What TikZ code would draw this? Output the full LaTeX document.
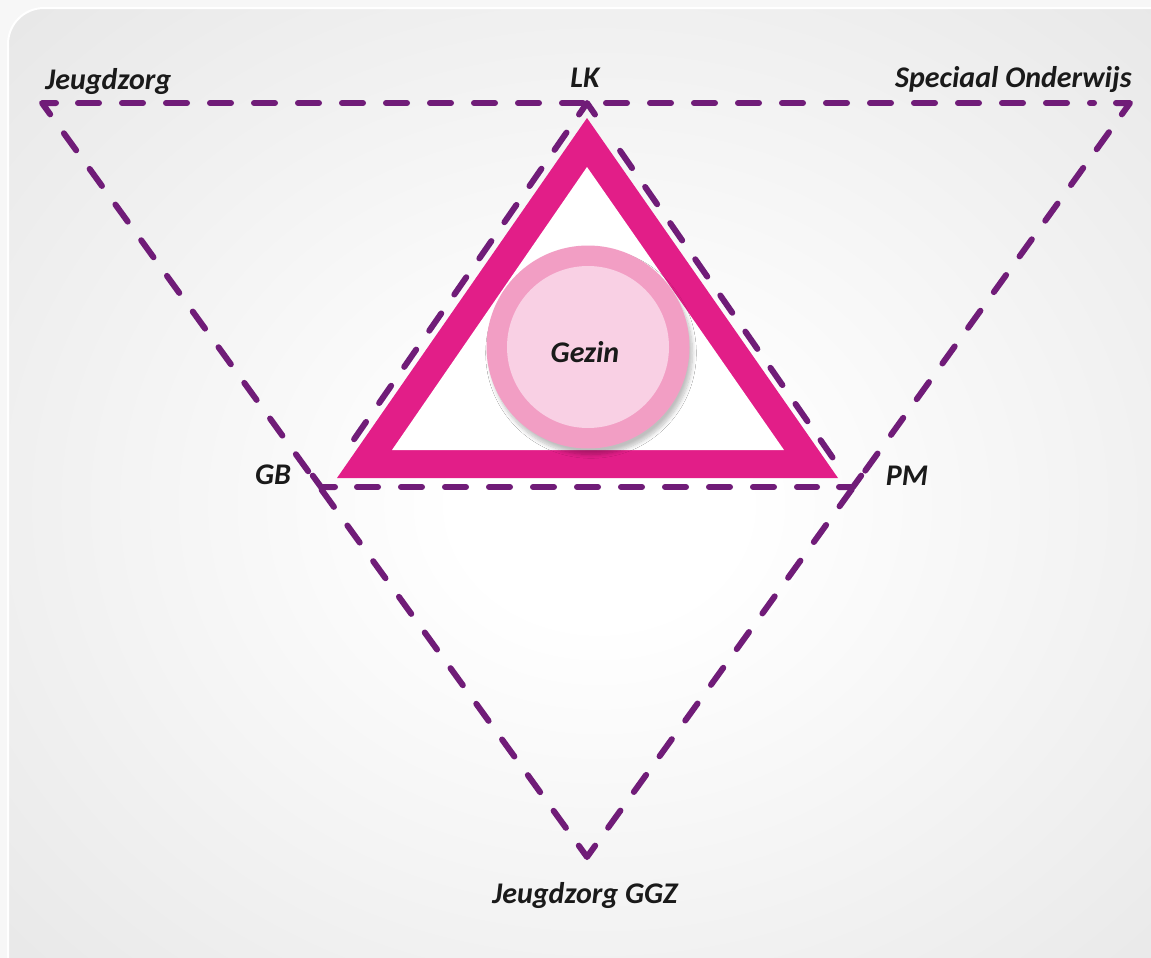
\documentclass[tikz,border=0pt]{standalone}
\usepackage{fontspec}
\setmainfont{Carlito}
\usetikzlibrary{calc,shadows.blur}
\definecolor{paars}{RGB}{112,28,120}
\definecolor{roze}{RGB}{226,30,136}
\definecolor{roze licht}{RGB}{242,158,196}
\definecolor{roze bleek}{RGB}{249,208,228}
\definecolor{grijs}{RGB}{226,226,226}
\definecolor{zwart}{RGB}{26,26,26}
\pgfdeclareradialshading{achtergrond}{\pgfpoint{0bp}{0bp}}{color(0bp)=(white); color(6bp)=(white); color(42bp)=(grijs)}
\tikzset{
  lijn/.style={draw=paars,line width=3pt,line cap=round,dash pattern=on 10.5pt off 11.5pt,
    shorten <=18pt,shorten >=18pt},
  punt/.style={draw=paars,line width=3pt,line cap=round,line join=round},
  tekst/.style={text=zwart,font=\fontsize{15}{17}\selectfont\bfseries\itshape,inner sep=0pt},
}
\begin{document}
\begin{tikzpicture}[x=0.5pt,y=-0.5pt]
\useasboundingbox (0,0) rectangle (1151,958);
%achtergrond
\fill[white!97!black] (0,0) rectangle (1151,958);
\begin{scope}
\clip (0,0) rectangle (1151,958);
\shade[shading=achtergrond,rounded corners=18pt] (8,8) rectangle (1190,1000);
\draw[white,line width=1pt,rounded corners=18pt] (8,8) rectangle (1190,1000);
\end{scope}
%hoekpunten
\coordinate (jz) at (42,103);
\coordinate (so) at (1130,103);
\coordinate (ggz) at (587,857);
\coordinate (lk) at (587,103);
\coordinate (gb) at (321,487);
\coordinate (pm) at (853,487);
%roze driehoek
\fill[roze] (587,118) -- (337,478) -- (838,478) -- cycle;
\fill[white] (587,167) -- (392,450) -- (784,450) -- cycle;
%gezin
\node[circle,minimum size=101.5pt,fill=roze licht,inner sep=0pt,
  blur shadow={shadow xshift=1.5pt,shadow yshift=-3pt,shadow blur steps=8,shadow opacity=25}] (ring) at (588,347) {};
\node[circle,minimum size=81pt,fill=roze bleek,inner sep=0pt] (kern) at (ring) {};
\node[tekst,anchor=base] (gezin) at (585,362) {Gezin};
%buitenste driehoek
\draw[lijn] (jz) -- (so);
\draw[lijn] (so) -- (ggz);
\draw[lijn] (ggz) -- (jz);
%binnenste driehoek
\draw[lijn] (lk) -- (gb);
\draw[lijn] (gb) -- (pm);
\draw[lijn] (pm) -- (lk);
%pijlpunten
\draw[punt] ($(jz)!7pt!(so)$) -- (jz) -- ($(jz)!7pt!(ggz)$);
\draw[punt] ($(so)!7pt!(jz)$) -- (so) -- ($(so)!7pt!(ggz)$);
\draw[punt] ($(ggz)!7pt!(jz)$) -- (ggz) -- ($(ggz)!7pt!(so)$);
\draw[punt] ($(lk)!7pt!(gb)$) -- (lk) -- ($(lk)!7pt!(pm)$);
\draw[punt] ($(gb)!7pt!(jz)$) -- (gb) -- ($(gb)!7pt!(pm)$);
\draw[punt] ($(pm)!7pt!(so)$) -- (pm) -- ($(pm)!7pt!(gb)$);
%namen
\node[tekst,anchor=base west] (jeugdzorg) at (45,89) {Jeugdzorg};
\node[tekst,anchor=base] (lkt) at (585,87) {LK};
\node[tekst,anchor=base east] (speciaal) at (1132,87) {Speciaal Onderwijs};
\node[tekst,anchor=base] (gbt) at (273,484) {GB};
\node[tekst,anchor=base] (pmt) at (907,485) {PM};
\node[tekst,anchor=base] (ggzt) at (585,903) {Jeugdzorg GGZ};
\end{tikzpicture}
\end{document}
